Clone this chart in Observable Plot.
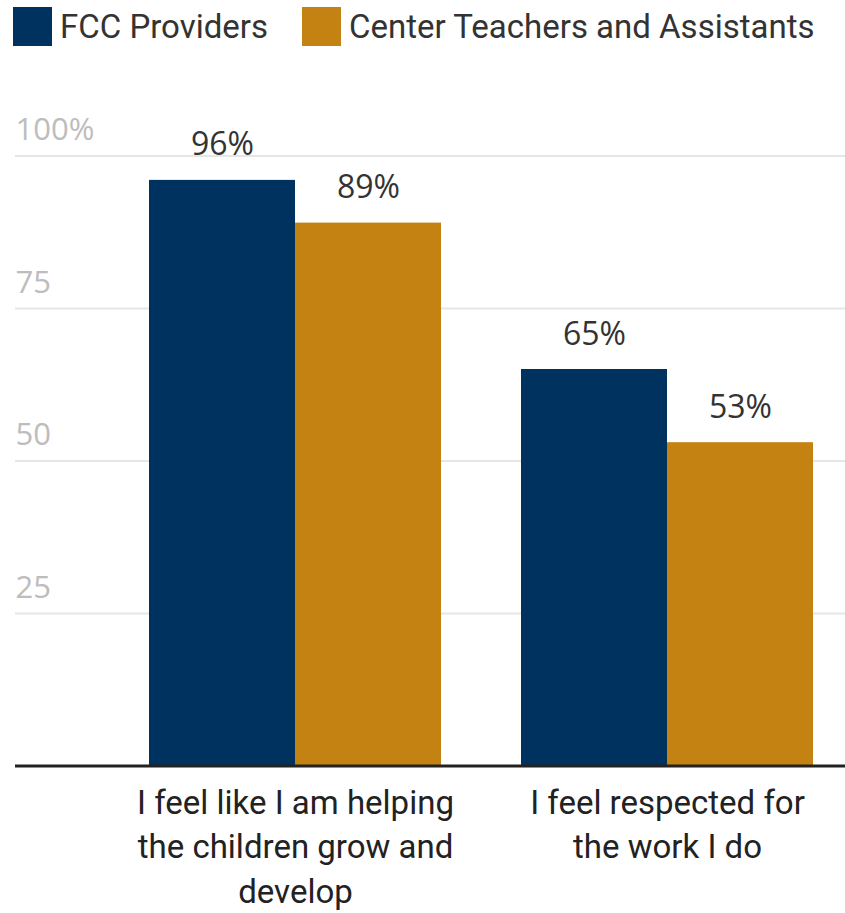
<!DOCTYPE html>
<html>
<head>
<meta charset="utf-8">
<script src="https://cdn.jsdelivr.net/npm/d3@7"></script>
<script src="https://cdn.jsdelivr.net/npm/@observablehq/plot@0.6"></script>
<style>
  html, body { margin: 0; padding: 0; background: #fff; }
  #legend { position: relative; height: 60px; width: 845px; font-family: Roboto, sans-serif; font-size: 33px; color: #333; }
  .item { position: absolute; top: 7px; display: flex; align-items: center; height: 39px; }
  .sw { width: 39px; height: 39px; margin-right: 8px; }
  .lab { line-height: 39px; white-space: nowrap; }
  #chart { position: relative; width: 845px; height: 853px; }
  #chart svg { position: absolute; left: 0; top: 0; }
</style>
</head>
<body>
<div id="legend"></div>
<div id="chart"></div>
<script>
const categories = [
  "I feel like I am helping the children grow and develop",
  "I feel respected for the work I do"
];
const categoryLines = [
  "I feel like I am helping\nthe children grow and\ndevelop",
  "I feel respected for\nthe work I do"
];
const seriesNames = ["FCC Providers", "Center Teachers and Assistants"];
const seriesColors = ["#00325f", "#c38211"];
const fccValues = [96, 65];
const centerValues = [89, 53];
const yTicks = [25, 50, 75, 100];
const yTickLabels = ["25", "50", "75", "100%"];

const data = [];
categories.forEach((c, i) => {
  data.push({category: c, series: seriesNames[0], value: fccValues[i]});
  data.push({category: c, series: seriesNames[1], value: centerValues[i]});
});

// legend
const legend = document.getElementById("legend");
const lefts = [13, 302];
seriesNames.forEach((s, i) => {
  const it = document.createElement("div");
  it.className = "item";
  it.style.left = lefts[i] + "px";
  const sw = document.createElement("div");
  sw.className = "sw";
  sw.style.background = seriesColors[i];
  const lb = document.createElement("span");
  lb.className = "lab";
  lb.textContent = s;
  it.appendChild(sw); it.appendChild(lb);
  legend.appendChild(it);
});

const ticks = yTicks.map((v, i) => ({v, label: yTickLabels[i]}));

const common = {
  width: 845,
  height: 853,
  marginLeft: 15,
  marginRight: 0,
  marginTop: 95.5,
  marginBottom: 147.5,
  y: {domain: [0, 100], axis: null}
};

// background layer: grid and y tick labels
const bg = Plot.plot({
  ...common,
  style: {fontFamily: "Roboto, sans-serif", background: "#fff"},
  marks: [
    Plot.ruleY(ticks, {y: "v", stroke: "#e6e6e6", strokeWidth: 2}),
    Plot.text(ticks, {y: "v", text: "label", frameAnchor: "left", textAnchor: "start", lineAnchor: "bottom", dy: -16, fill: "#bdbdbd", fontSize: 31, fontFamily: "'Open Sans', sans-serif"})
  ]
});

// foreground layer: bars, labels, category axis
const fg = Plot.plot({
  ...common,
  style: {fontFamily: "Roboto, sans-serif", background: "transparent"},
  fx: {domain: categories, paddingInner: 0.2155, paddingOuter: 0.2204, align: 0.807, label: null},
  x: {domain: seriesNames, padding: 0, axis: null},
  color: {domain: seriesNames, range: seriesColors},
  marks: [
    Plot.barY(data, {fx: "category", x: "series", y: "value", fill: "series"}),
    Plot.text(data, {fx: "category", x: "series", y: "value", text: d => d.value + "%", lineAnchor: "bottom", dy: -25, fill: "#333", fontSize: 32, fontFamily: "'Open Sans', sans-serif"}),
    Plot.axisFx({anchor: "bottom", tickSize: 0, tickPadding: 16, label: null, fontSize: 33, lineHeight: 1.35, fill: "#222", tickFormat: d => categoryLines[categories.indexOf(d)], lineWidth: 100})
  ]
});

// baseline layer (spans full width, drawn on top)
const base = Plot.plot({
  ...common,
  style: {background: "transparent"},
  marks: [
    Plot.ruleY([0], {stroke: "#222", strokeWidth: 3})
  ]
});

const el = document.getElementById("chart");
el.appendChild(bg);
el.appendChild(fg);
el.appendChild(base);
</script>
</body>
</html>
